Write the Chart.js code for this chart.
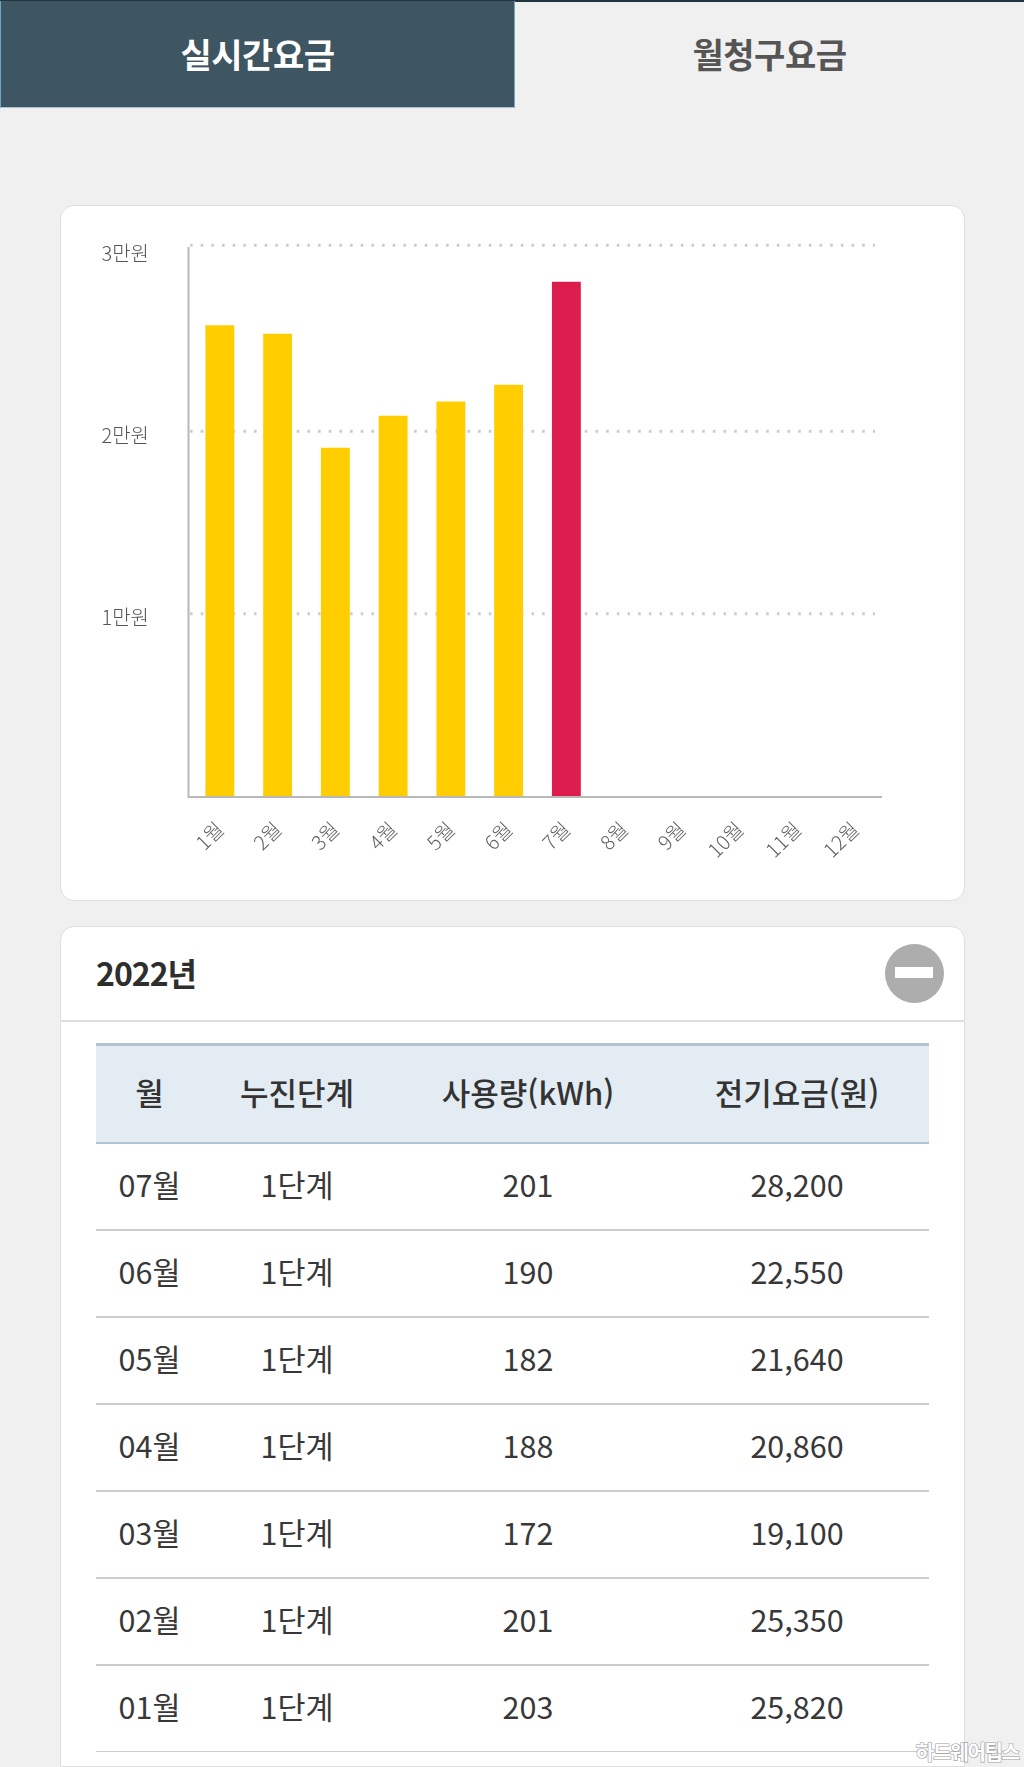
<!DOCTYPE html>
<html lang="ko"><head><meta charset="utf-8">
<script src="https://cdn.jsdelivr.net/npm/chart.js@4"></script>
<style>
*{box-sizing:border-box}
html,body{margin:0;padding:0;background:#f0f0f0;width:1024px;height:1767px;overflow:hidden;font-family:"Noto Sans CJK KR","Noto Sans",sans-serif;color:#333}
.abs{position:absolute}
#topline{left:0;top:0;width:1024px;height:2px;background:#22343f}
#tabA{left:0;top:1px;width:515px;height:107px;background:#3e5562;border-left:1px solid #6ea6c4;border-right:1px solid #6ea6c4;border-bottom:1px solid #a9c3d2;color:#fff;font-size:34px;font-weight:700;text-align:center;line-height:106px;letter-spacing:-.5px}
#tabB{left:515px;top:1px;width:509px;height:107px;color:#555;font-size:34px;font-weight:700;text-align:center;line-height:106px;letter-spacing:-.5px}
.card{background:#fff;border:1.5px solid #dedede;left:60px;width:905px}
#c1{top:205px;height:696px;border-radius:14px}
#c2{top:926px;height:841px;border-radius:14px 14px 0 0}
#chart{left:60px;top:205px}
#year{left:96px;top:945px;font-size:32px;font-weight:700;line-height:54px;letter-spacing:-1px;color:#2e2e2e}
#hline{left:60px;top:1020px;width:905px;height:2px;background:#dedede}
#icon{left:885px;top:944px;width:59px;height:59px;border-radius:50%;background:#adadad}
#icon i{position:absolute;left:10px;top:23px;width:38px;height:11px;background:#fff}
table{position:absolute;left:96px;top:1043px;width:833px;border-collapse:collapse;table-layout:fixed;font-size:30.5px}
th{height:98px;background:#e4ecf3;border-top:3px solid #b0c4d4;border-bottom:2px solid #b0c4d4;font-weight:500;font-size:31px;padding:0 0 5px;color:#333}
td{height:87px;border-bottom:2px solid #c9cdd1;text-align:center;padding:0 0 5px;font-weight:400;color:#383838}
tr:last-child td{border-bottom:1.5px solid #c9cdd1}
#wm{right:5px;top:1737px;font-size:20px;font-weight:700;color:#fff;-webkit-text-stroke:1.2px #9a9a9a;paint-order:stroke fill;letter-spacing:-1.2px;line-height:30px}
</style></head><body>
<div class="abs" id="topline"></div>
<div class="abs" id="tabA">실시간요금</div>
<div class="abs" id="tabB">월청구요금</div>
<div class="abs card" id="c1"></div>
<canvas class="abs" id="chart" width="904" height="696" style="width:904px;height:696px"></canvas>
<div class="abs card" id="c2"></div>
<div class="abs" id="year">2022년</div>
<div class="abs" id="icon"><i></i></div>
<div class="abs" id="hline"></div>
<table id="tbl"><colgroup><col style="width:107px"><col style="width:188px"><col style="width:274px"><col style="width:264px"></colgroup><thead><tr id="head"></tr></thead><tbody id="body"></tbody></table>
<div class="abs" id="wm">하드웨어팁스</div>
<script>
const categories = ["1월","2월","3월","4월","5월","6월","7월","8월","9월","10월","11월","12월"];
const charges = [25820,25350,19100,20860,21640,22550,28200,null,null,null,null,null];
const usage = [203,201,172,188,182,190,201];
const stages = ["1단계","1단계","1단계","1단계","1단계","1단계","1단계"];
const tableMonths = ["01월","02월","03월","04월","05월","06월","07월"];
const tableHeaders = ["월","누진단계","사용량(kWh)","전기요금(원)"];
const yTicks = [10000,20000,30000];
const yTickLabels = {10000:"1만원",20000:"2만원",30000:"3만원"};
const barColors = ["#ffcd00","#ffcd00","#ffcd00","#ffcd00","#ffcd00","#ffcd00","#dc1d4e","#ffcd00","#ffcd00","#ffcd00","#ffcd00","#ffcd00"];

document.getElementById('head').innerHTML = tableHeaders.map(h=>`<th>${h}</th>`).join('');
let rows='';
for(let i=tableMonths.length-1;i>=0;i--){
  rows+=`<tr><td>${tableMonths[i]}</td><td>${stages[i]}</td><td>${usage[i]}</td><td>${charges[i].toLocaleString('en-US')}</td></tr>`;
}
document.getElementById('body').innerHTML = rows;

const frame = {
  id:'frame',
  beforeDatasetsDraw(ch){
    const {ctx,chartArea:a,scales:{y}} = ch;
    ctx.save();
    ctx.strokeStyle='#cdcdcd';ctx.lineWidth=3;ctx.setLineDash([2.6,8.07]);
    yTicks.forEach(v=>{
      let p=y.getPixelForValue(v);
      if(v===30000) p-=3.7;
      ctx.beginPath();ctx.moveTo(a.left-1,p);ctx.lineTo(a.right-9,p);ctx.stroke();
    });
    ctx.restore();
  },
  afterDatasetsDraw(ch){
    const {ctx,chartArea:a,scales:{y}} = ch;
    ctx.save();
    ctx.strokeStyle='#b8b8b8';ctx.lineWidth=2;
    ctx.beginPath();ctx.moveTo(a.left-2.5,a.top-2);ctx.lineTo(a.left-2.5,y.getPixelForValue(0)+1);ctx.lineTo(a.right-2,y.getPixelForValue(0)+1);ctx.stroke();
    ctx.restore();
  }
};

new Chart(document.getElementById('chart'),{
  type:'bar',
  data:{labels:categories,datasets:[{data:charges,backgroundColor:barColors,barPercentage:.5,categoryPercentage:1,borderWidth:0}]},
  plugins:[frame],
  options:{
    responsive:false,animation:false,
    layout:{padding:{top:44,right:80,left:0,bottom:0}},
    plugins:{legend:{display:false},tooltip:{enabled:false}},
    scales:{
      x:{
        grid:{display:false},border:{display:false},
        afterFit(s){s.height=105;s.paddingLeft=0;s.paddingRight=0},
        ticks:{autoSkip:false,minRotation:45,maxRotation:45,padding:13,labelOffset:0,color:'#5f5f5f',font:{family:'"Noto Sans CJK KR"',size:20,weight:'300'}}
      },
      y:{
        min:0,max:30000,
        grid:{display:false},border:{display:false},
        afterBuildTicks(s){s.ticks=yTicks.map(v=>({value:v}))},
        afterFit(s){s.width=131;s.paddingTop=0;s.paddingBottom=0},
        ticks:{padding:34,labelOffset:4,color:'#555',font:{family:'"Noto Sans CJK KR"',size:20,weight:'300'},callback:v=>yTickLabels[v]}
      }
    }
  }
});
</script>
</body></html>
